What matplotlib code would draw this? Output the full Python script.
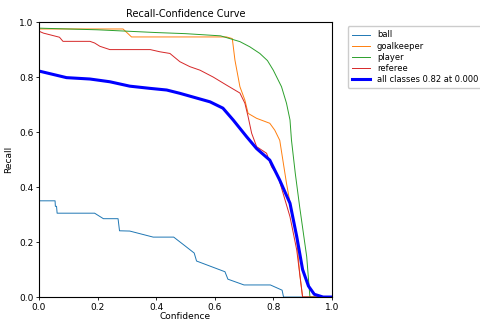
import numpy as np
import matplotlib
matplotlib.use("Agg")
import matplotlib.pyplot as plt

# values (confidence, recall)
ball_x = [0.0, 0.055, 0.056, 0.06, 0.062, 0.19, 0.22, 0.27, 0.275, 0.31, 0.39, 0.46, 0.5,
          0.53, 0.538, 0.635, 0.645, 0.70, 0.79, 0.83, 0.835, 1.0]
ball_y = [0.35, 0.35, 0.33, 0.33, 0.305, 0.305, 0.285, 0.285, 0.241, 0.24, 0.218, 0.218, 0.185,
          0.16, 0.131, 0.092, 0.065, 0.044, 0.044, 0.025, 0.0, 0.0]

gk_x = [0.0, 0.287, 0.316, 0.64, 0.66, 0.669, 0.686, 0.703, 0.714, 0.743, 0.788, 0.805, 0.822,
        0.845, 0.88, 0.89, 0.90, 1.0]
gk_y = [0.975, 0.975, 0.946, 0.946, 0.94, 0.862, 0.765, 0.716, 0.668, 0.65, 0.632, 0.607, 0.57,
        0.414, 0.207, 0.087, 0.0, 0.0]

player_x = [0.0, 0.2, 0.4, 0.5, 0.62, 0.686, 0.72, 0.754, 0.78, 0.80, 0.828, 0.845, 0.857,
            0.862, 0.875, 0.89, 0.914, 0.925, 1.0]
player_y = [0.978, 0.972, 0.962, 0.958, 0.95, 0.929, 0.91, 0.886, 0.86, 0.825, 0.765, 0.705,
            0.644, 0.571, 0.45, 0.328, 0.147, 0.0, 0.0]

referee_x = [0.0, 0.015, 0.07, 0.082, 0.174, 0.19, 0.208, 0.242, 0.38, 0.413, 0.447, 0.481,
             0.515, 0.55, 0.595, 0.64, 0.686, 0.703, 0.714, 0.726, 0.743, 0.777, 0.794, 0.816,
             0.857, 0.88, 0.90, 1.0]
referee_y = [0.967, 0.96, 0.945, 0.93, 0.93, 0.924, 0.912, 0.9, 0.9, 0.892, 0.886, 0.856,
             0.838, 0.825, 0.80, 0.771, 0.742, 0.705, 0.656, 0.596, 0.547, 0.523, 0.474, 0.44,
             0.292, 0.171, 0.0, 0.0]

all_x = [0.0, 0.094, 0.174, 0.242, 0.31, 0.379, 0.436, 0.481, 0.584, 0.628, 0.663, 0.709,
         0.743, 0.788, 0.822, 0.857, 0.88, 0.90, 0.92, 0.94, 0.97, 1.0]
all_y = [0.822, 0.798, 0.793, 0.783, 0.767, 0.759, 0.753, 0.741, 0.71, 0.687, 0.644, 0.583,
         0.54, 0.498, 0.425, 0.341, 0.22, 0.10, 0.04, 0.01, 0.0, 0.0]

names = ["ball", "goalkeeper", "player", "referee"]
xs = [ball_x, gk_x, player_x, referee_x]
ys = [ball_y, gk_y, player_y, referee_y]

fig = plt.figure(figsize=(4.81, 3.25), dpi=100)
ax = fig.add_axes([0.081, 0.086, 0.609, 0.846])

for name, x, y in zip(names, xs, ys):
    ax.plot(x, y, linewidth=0.7, label=name)
ax.plot(all_x, all_y, linewidth=2.2, color="blue", label="all classes 0.82 at 0.000")

ax.set_xlim(0, 1)
ax.set_ylim(0, 1)
ax.set_xlabel("Confidence", fontsize=6.5, labelpad=0)
ax.set_ylabel("Recall", fontsize=6.5)
ax.set_title("Recall-Confidence Curve", fontsize=7, pad=4)
ax.tick_params(labelsize=6.5, length=2.5, width=0.6, pad=1.5)
for s in ax.spines.values():
    s.set_linewidth(0.8)
ax.legend(bbox_to_anchor=(1.04, 1), loc="upper left", fontsize=6, handlelength=2.2,
          labelspacing=0.25, borderpad=0.5, framealpha=1)

fig.savefig("out.png", dpi=100)
